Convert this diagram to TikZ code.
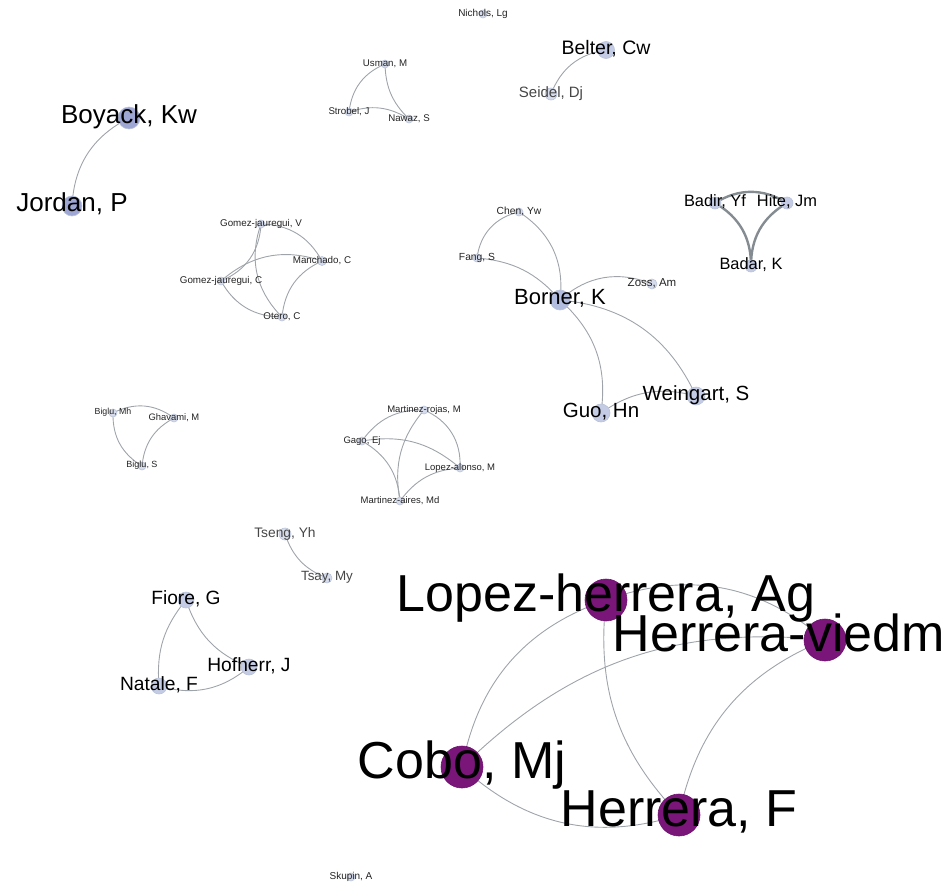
\documentclass[tikz,border=0pt]{standalone}
\usepackage{fontspec}
\setmainfont{Liberation Sans}
\pgfdeclarelayer{bg}
\pgfdeclarelayer{fg}
\pgfsetlayers{bg,main,fg}

\definecolor{edgec}{RGB}{158,164,170}
\definecolor{edgedark}{RGB}{132,140,146}
\definecolor{nsmall}{RGB}{214,220,236}
\definecolor{nring}{RGB}{186,195,215}
\definecolor{nmid}{RGB}{196,204,229}
\definecolor{nborner}{RGB}{178,188,222}
\definecolor{nboyack}{RGB}{158,166,212}
\definecolor{npurple}{RGB}{122,22,122}
\definecolor{pring}{RGB}{110,18,110}
\definecolor{txtgray}{RGB}{70,70,70}
\definecolor{txtdark}{RGB}{35,35,35}

\tikzset{
  dot/.style={circle, inner sep=0pt, draw=nring, line width=0.6pt},
  lbl/.style={font=\fontsize{#1}{#1}\selectfont, anchor=base, inner sep=0pt, yshift=-0.22*#1},
  edge/.style={draw=edgec, line width=0.9pt},
  heavyedge/.style={draw=edgedark, line width=2.4pt},
}

% \person{name}{x}{y}{radius}{fill}{font size}{label}{text colour}
\newcommand\person[8]{%
  \node[dot, minimum size=2*#4, fill=#5] (#1) at (#2,-#3) {};
  \begin{pgfonlayer}{fg}
    \node[lbl=#6, text=#8] (#1-t) at (#2,-#3) {#7};
  \end{pgfonlayer}}

\begin{document}
\begin{tikzpicture}[x=1pt, y=1pt]
\useasboundingbox (0,0) rectangle (942,-883);
\clip (0,0) rectangle (942,-883);

% ---- authors ----
\person{nichols}{483}{14}{4}{nsmall}{10}{Nichols, Lg}{txtdark}
\person{usman}{385}{64}{4}{nsmall}{9.7}{Usman, M}{txtdark}
\person{strobel}{349}{112}{4}{nsmall}{9.7}{Strobel, J}{txtdark}
\person{nawaz}{409}{119}{4}{nsmall}{9.7}{Nawaz, S}{txtdark}
\person{belter}{606}{50}{8.5}{nmid}{19.5}{Belter, Cw}{black}
\person{seidel}{551}{94}{6}{nsmall}{15}{Seidel, Dj}{txtgray}
\person{boyack}{129}{118}{11}{nboyack}{26}{Boyack, Kw}{black}
\person{jordan}{72}{206}{10}{nboyack}{26}{Jordan, P}{black}

\person{gomv}{261}{224}{4}{nsmall}{9.8}{Gomez-jauregui, V}{txtdark}
\person{manchado}{322}{261}{4.5}{nsmall}{9.8}{Manchado, C}{txtdark}
\person{gomc}{221}{281}{4}{nsmall}{9.8}{Gomez-jauregui, C}{txtdark}
\person{otero}{282}{317}{4}{nsmall}{9.8}{Otero, C}{txtdark}

\person{chen}{519}{212}{4}{nsmall}{10.3}{Chen, Yw}{txtdark}
\person{fang}{477}{258}{4}{nsmall}{10.3}{Fang, S}{txtdark}
\person{zoss}{652}{284}{5}{nsmall}{11.5}{Zoss, Am}{txtdark}
\person{borner}{560}{300}{10}{nborner}{22}{Borner, K}{black}
\person{guo}{601}{413}{9}{nmid}{20.5}{Guo, Hn}{black}
\person{weingart}{696}{396}{9}{nmid}{20.5}{Weingart, S}{black}

\person{badir}{715}{203}{6}{nmid}{16.4}{Badir, Yf}{black}
\person{hite}{787}{203}{6}{nmid}{16.4}{Hite, Jm}{black}
\person{badar}{751}{266}{6}{nmid}{16.4}{Badar, K}{black}

\person{biglumh}{113}{413}{4}{nsmall}{8.8}{Biglu, Mh}{txtdark}
\person{ghavami}{174}{418}{4}{nsmall}{9.4}{Ghavami, M}{txtdark}
\person{biglus}{142}{466}{4}{nsmall}{9}{Biglu, S}{txtdark}

\person{mrojas}{424}{410}{4}{nsmall}{9.5}{Martinez-rojas, M}{txtdark}
\person{gago}{362}{441}{4}{nsmall}{9.5}{Gago, Ej}{txtdark}
\person{lalonso}{460}{468}{4}{nsmall}{9.5}{Lopez-alonso, M}{txtdark}
\person{maires}{400}{501}{4}{nsmall}{9.5}{Martinez-aires, Md}{txtdark}

\person{tseng}{285}{534}{6}{nsmall}{13.8}{Tseng, Yh}{txtgray}
\person{tsay}{327}{578}{5}{nsmall}{13.4}{Tsay, My}{txtgray}

\person{fiore}{186}{600}{8}{nmid}{19.2}{Fiore, G}{black}
\person{hofherr}{249}{667}{8}{nmid}{19.2}{Hofherr, J}{black}
\person{natale}{159}{686}{8}{nmid}{19.2}{Natale, F}{black}

\person{skupin}{351}{877}{4}{nsmall}{10}{Skupin, A}{txtdark}

\tikzset{dot/.append style={draw=pring}}
\person{lherrera}{606}{600}{21}{npurple}{52}{Lopez-herrera, Ag}{black}
\person{hviedma}{825}{640}{21}{npurple}{52}{Herrera-viedma, E}{black}
\person{cobo}{462}{767}{21}{npurple}{52}{Cobo, Mj}{black}
\person{fherrera}{679}{815}{21}{npurple}{52}{Herrera, F}{black}

% ---- co-authorship links ----
\begin{pgfonlayer}{bg}
\draw[edge] (usman.center) to[bend right=30] (strobel.center);
\draw[edge] (usman.center) to[bend right=22] (nawaz.center);
\draw[edge] (strobel.center) to[bend left=25] (nawaz.center);
\draw[edge] (belter.center) to[bend right=30] (seidel.center);
\draw[edge] (boyack.center) to[bend right=30] (jordan.center);

\draw[edge] (gomv.center) to[bend left=30] (manchado.center);
\draw[edge] (gomv.center) to[bend left=32] (gomc.center);
\draw[edge] (gomv.center) to[bend right=32] (otero.center);
\draw[edge] (gomc.center) to[bend left=30] (manchado.center);
\draw[edge] (gomc.center) to[bend right=30] (otero.center);
\draw[edge] (manchado.center) to[bend right=30] (otero.center);

\draw[edge] (chen.center) to[bend right=35] (fang.center);
\draw[edge] (chen.center) to[bend left=32] (borner.center);
\draw[edge] (fang.center) to[bend left=22] (borner.center);
\draw[edge] (borner.center) to[bend left=32] (zoss.center);
\draw[edge] (borner.center) to[bend left=28] (guo.center);
\draw[edge] (borner.center) to[bend left=30] (weingart.center);
\draw[edge] (guo.center) to[bend left=25] (weingart.center);

\draw[heavyedge] (badir.center) to[bend left=32] (hite.center);
\draw[heavyedge] (badir.center) to[bend left=30] (badar.center);
\draw[heavyedge] (hite.center) to[bend right=30] (badar.center);

\draw[edge] (biglumh.center) to[bend left=32] (ghavami.center);
\draw[edge] (biglumh.center) to[bend right=30] (biglus.center);
\draw[edge] (ghavami.center) to[bend right=28] (biglus.center);

\draw[edge] (mrojas.center) to[bend right=28] (gago.center);
\draw[edge] (mrojas.center) to[bend left=35] (lalonso.center);
\draw[edge] (mrojas.center) to[bend right=25] (maires.center);
\draw[edge] (gago.center) to[bend left=25] (lalonso.center);
\draw[edge] (gago.center) to[bend left=28] (maires.center);
\draw[edge] (maires.center) to[bend left=25] (lalonso.center);

\draw[edge] (tseng.center) to[bend right=25] (tsay.center);

\draw[edge] (fiore.center) to[bend right=22] (natale.center);
\draw[edge] (fiore.center) to[bend right=25] (hofherr.center);
\draw[edge] (natale.center) to[bend right=28] (hofherr.center);

\draw[edge] (lherrera.center) to[bend left=30] (hviedma.center);
\draw[edge] (lherrera.center) to[bend right=30] (cobo.center);
\draw[edge] (lherrera.center) to[bend right=25] (fherrera.center);
\draw[edge] (hviedma.center) to[bend right=25] (cobo.center);
\draw[edge] (hviedma.center) to[bend right=28] (fherrera.center);
\draw[edge] (cobo.center) to[bend right=30] (fherrera.center);
\end{pgfonlayer}
\end{tikzpicture}
\end{document}
